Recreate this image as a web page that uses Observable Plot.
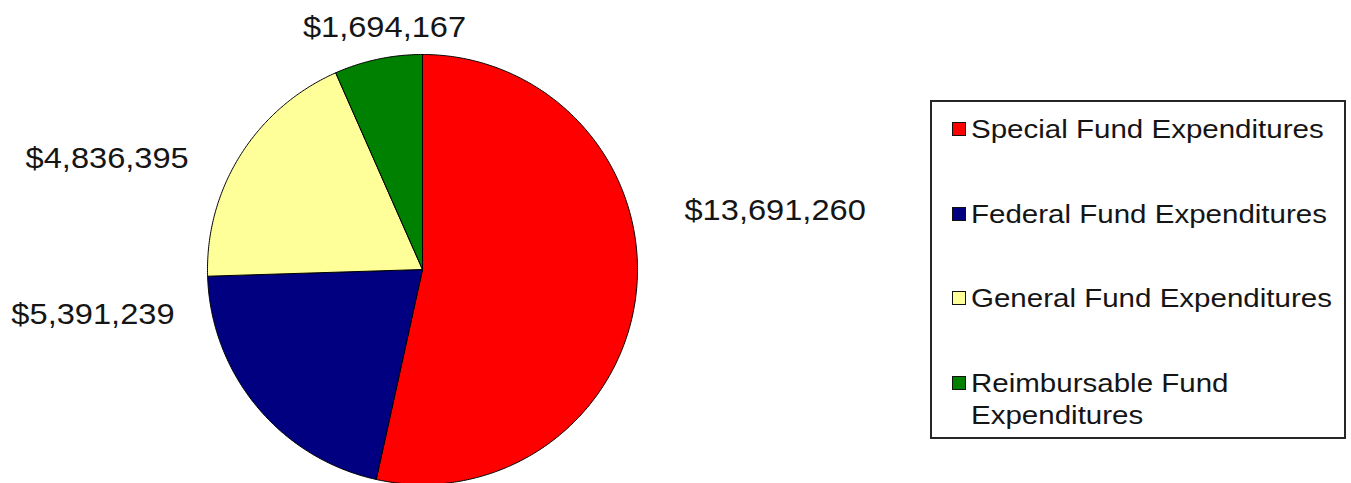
<!DOCTYPE html>
<html>
<head>
<meta charset="utf-8">
<script src="https://cdn.jsdelivr.net/npm/d3@7"></script>
<script src="https://cdn.jsdelivr.net/npm/@observablehq/plot@0.6"></script>
<style>
  html, body { margin: 0; padding: 0; background: #fff; width: 1351px; height: 483px; overflow: hidden;
    font-family: "Liberation Sans", Arial, sans-serif; }
  #chart { position: absolute; left: 0; top: 0; }
  #legend { position: absolute; left: 930px; top: 100px; width: 416px; height: 339px;
    box-sizing: border-box; border: 2px solid #262626; background: #fff; }
  .item { position: absolute; left: 0; width: 400px; font-size: 26px; line-height: 32px; color: #151515; }
  .sw { position: absolute; left: 20px; top: 9px; width: 14px; height: 14px; box-sizing: border-box; border: 1px solid #111; }
  .lab { position: absolute; left: 39px; top: 0; width: 330px; transform: scaleX(1.135); transform-origin: 0 0; }
</style>
</head>
<body>
<div id="chart"></div>
<div id="legend"></div>
<script>
// ---- data ----
const categories = ["Special Fund Expenditures", "Federal Fund Expenditures", "General Fund Expenditures", "Reimbursable Fund Expenditures"];
const values = [13691260, 5391239, 4836395, 1694167];
const colors = ["#FF0000", "#000080", "#FFFF99", "#008000"];

// ---- layout (label placement, polar: degrees clockwise from 12 o'clock, radius in pie radii) ----
const labelAngle = [80.5, 262.2, 289.4, 351.1];
const labelRadius = [1.663, 1.547, 1.555, 1.142];

const fmt = d3.format("$,");
const total = d3.sum(values);
let acc = 0;
const slices = values.map((v, i) => {
  const a0 = acc / total * 2 * Math.PI; acc += v;
  const a1 = acc / total * 2 * Math.PI;
  return {cat: categories[i], a0, a1};
});
const pts = [];
slices.forEach(s => {
  pts.push({cat: s.cat, x: 0, y: 0});
  const n = Math.max(2, Math.ceil((s.a1 - s.a0) / (Math.PI / 360)));
  for (let k = 0; k <= n; k++) {
    const a = s.a0 + (s.a1 - s.a0) * k / n;
    pts.push({cat: s.cat, x: Math.sin(a), y: Math.cos(a)});
  }
  pts.push({cat: s.cat, x: 0, y: 0});
});
const labels = values.map((v, i) => {
  const t = labelAngle[i] * Math.PI / 180;
  return {x: labelRadius[i] * Math.sin(t), y: labelRadius[i] * Math.cos(t), text: fmt(v)};
});

const plot = Plot.plot({
  width: 900,
  height: 483,
  margin: 0,
  x: {domain: [-1, 1], range: [207, 637], axis: null},
  y: {domain: [-1, 1], range: [484, 54], axis: null},
  color: {domain: categories, range: colors},
  marks: [
    Plot.line(pts, {x: "x", y: "y", z: "cat", fill: "cat", stroke: "#000", strokeWidth: 1, strokeLinejoin: "round"}),
    Plot.text(labels, {x: "x", y: "y", text: "text", fontSize: 30,
      fontFamily: "Liberation Sans, Arial, sans-serif", fill: "#151515"})
  ]
});
document.getElementById("chart").append(plot);
d3.select(plot).selectAll("text").each(function() {
  const L = this.getComputedTextLength();
  this.setAttribute("textLength", L * 1.087);
  this.setAttribute("lengthAdjust", "spacingAndGlyphs");
});

// ---- legend ----
const legend = d3.select("#legend");
categories.forEach((c, i) => {
  const item = legend.append("div").attr("class", "item").style("top", (11 + i * 84.5) + "px");
  item.append("div").attr("class", "sw").style("background", colors[i]);
  item.append("div").attr("class", "lab").text(c);
});
</script>
</body>
</html>
